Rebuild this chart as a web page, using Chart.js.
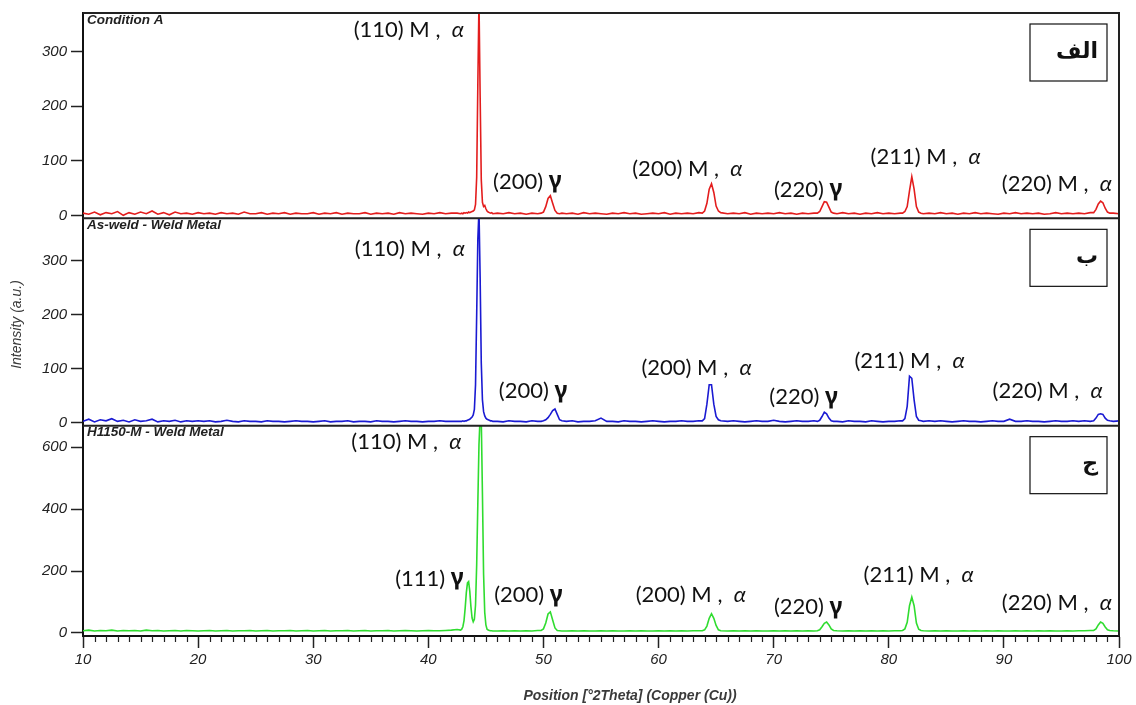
<!DOCTYPE html>
<html>
<head>
<meta charset="utf-8">
<script src="https://cdn.jsdelivr.net/npm/chart.js@4.4.1/dist/chart.umd.min.js"></script>
<style>
  html, body { margin: 0; padding: 0; background: #fff; }
  #wrap { width: 1136px; height: 705px; }
</style>
</head>
<body>
<div id="wrap"><canvas id="xrd" width="1136" height="705"></canvas></div>
<script>
// position [°2Theta], shared by the three scans
const twoTheta = [
  10,10.5,11,11.5,12,12.5,13,13.5,14,14.5,15,15.5,16,16.5,17,17.5,18,18.5,19,19.5,20,
  20.5,21,21.5,22,22.5,23,23.5,24,24.5,25,25.5,26,26.5,27,27.5,28,28.5,29,29.5,30,
  30.5,31,31.5,32,32.5,33,33.5,34,34.5,35,35.5,36,36.5,37,37.5,38,38.5,39,39.5,40,40.5,41,41.5,42,42.5,
  42.8,42.9,43,43.1,43.2,43.3,43.4,43.5,43.6,43.7,43.8,43.9,44,44.1,44.2,44.3,44.4,44.5,44.6,44.7,44.8,44.9,45,45.1,45.2,45.3,45.4,45.5,45.6,
  46,46.5,47,47.5,48,48.5,49,49.5,
  49.8,50,50.2,50.4,50.6,50.8,51,51.2,51.4,51.6,
  52,52.5,53,53.5,54,54.5,55,55.5,56,56.5,57,57.5,58,58.5,59,59.5,60,60.5,61,61.5,62,62.5,63,63.5,
  63.8,64,64.2,64.4,64.6,64.8,65,65.2,65.4,
  66,66.5,67,67.5,68,68.5,69,69.5,70,70.5,71,71.5,72,72.5,73,73.5,
  73.8,74,74.2,74.4,74.6,74.8,75,75.2,
  75.5,76,76.5,77,77.5,78,78.5,79,79.5,80,80.5,81,
  81.2,81.4,81.6,81.8,82,82.2,82.4,82.6,82.8,
  83,83.5,84,84.5,85,85.5,86,86.5,87,87.5,88,88.5,89,89.5,90,90.5,91,91.5,92,92.5,93,93.5,94,94.5,95,95.5,96,96.5,97,97.5,
  97.8,98,98.2,98.4,98.6,98.8,99,99.2,
  99.5,100
];

// Condition A
const intensityA = [
  4,2,6,1,5,3,7,0,5,2,6,3,8,2,5,1,6,3,4,2,5,
  3,4,2,5,3,4,2,6,3,3,5,2,4,3,5,2,4,3,3,5,
  2,4,3,5,2,4,3,3,5,2,4,3,4,2,5,3,4,3,2,4,3,5,3,4,4,
  3,4,3,5,4,5,4,6,5,6,7,8,10,20,70,240,395,220,65,24,16,18,12,8,6,5,4,5,3,
  4,3,5,3,4,2,4,3,
  4,6,16,31,36,22,9,4,3,4,
  3,4,2,5,3,4,3,2,4,3,5,3,4,2,3,4,3,5,2,4,3,4,3,5,
  4,8,22,48,58,42,17,8,5,
  3,4,3,5,2,4,3,4,3,5,3,4,2,4,3,4,
  4,7,16,25,24,15,6,4,
  3,5,3,4,2,4,3,5,3,4,3,4,
  4,7,16,45,71,48,16,6,4,
  3,4,3,5,3,4,2,4,3,5,3,4,3,2,4,3,5,3,4,3,4,2,3,5,3,4,3,4,3,5,
  5,11,21,26,23,13,6,4,
  4,3
];

// As-weld - Weld Metal
const intensityB = [
  2,6,1,5,3,7,2,4,1,5,2,3,6,1,3,2,4,1,3,2,3,
  2,3,1,2,4,2,1,3,2,2,1,3,2,2,1,2,3,2,2,1,
  2,3,1,2,2,3,1,2,2,1,3,2,2,1,2,3,2,2,1,2,2,3,2,2,2,
  2,2,3,2,3,3,4,5,6,8,10,14,24,70,200,340,395,270,110,42,20,12,8,6,5,4,3,3,2,
  2,1,3,2,2,1,3,2,
  2,3,5,9,15,22,25,15,5,3,
  2,3,1,2,2,3,8,2,2,1,3,2,2,1,2,3,2,1,2,2,3,2,2,3,
  3,7,34,70,70,34,11,5,3,
  2,3,2,1,2,3,2,2,4,2,1,2,3,2,2,3,
  2,4,11,19,16,8,3,2,
  2,1,3,2,2,1,3,2,1,2,2,3,
  3,7,30,86,82,42,11,4,3,
  2,3,2,3,2,1,2,3,2,2,1,2,3,2,2,6,2,2,3,2,2,1,2,3,2,2,3,2,3,2,
  3,8,15,16,15,8,4,3,
  2,3
];

// H1150-M - Weld Metal
const intensityC = [
  7,9,6,8,7,9,6,8,7,8,6,9,7,8,6,7,8,6,8,7,6,
  7,8,6,7,8,6,7,7,8,6,7,8,6,7,7,8,6,7,8,6,
  7,8,6,7,7,8,6,7,8,6,7,7,8,6,7,8,7,6,7,8,7,7,8,9,11,
  9,12,20,40,80,130,162,166,135,85,48,36,44,90,220,420,610,700,690,450,190,66,26,12,9,8,7,7,6,
  6,7,6,7,6,7,6,8,
  8,13,32,61,68,42,16,8,7,6,
  6,7,6,7,6,6,7,6,7,6,6,7,6,7,6,6,7,6,7,6,7,6,7,7,
  7,10,22,47,62,47,24,10,7,
  6,7,6,7,6,7,6,6,7,6,7,6,7,6,7,6,
  7,10,20,31,35,26,13,8,
  7,6,7,6,7,6,7,6,7,6,7,7,
  8,13,34,88,116,88,32,12,8,
  7,6,7,6,7,6,6,7,6,7,6,7,6,7,6,6,7,6,7,6,7,6,7,6,6,7,6,7,7,8,
  8,13,26,35,31,19,10,8,
  7,6
];

const panelNames = ['Condition A', 'As-weld - Weld Metal', 'H1150-M - Weld Metal'];
const panelTags = ['الف', 'ب', 'ج'];
const lineColors = ['#e31d1d', '#1a1ad2', '#2fdc2f'];

// peak labels: [hkl, phase, 2theta, intensity]  (Ma = martensite/alpha, g = gamma)
const peaksA = [['(110)','Ma',38.3,340],['(200)','g',48.6,62],['(200)','Ma',62.5,86],['(220)','g',73.0,47.5],['(211)','Ma',83.2,108],['(220)','Ma',94.6,57]];
const peaksB = [['(110)','Ma',38.4,322],['(200)','g',49.1,58],['(200)','Ma',63.3,101],['(220)','g',72.6,47],['(211)','Ma',81.8,114],['(220)','Ma',93.8,58]];
const peaksC = [['(110)','Ma',38.1,618],['(111)','g',40.1,176],['(200)','g',48.7,122],['(200)','Ma',62.8,122],['(220)','g',73.0,83],['(211)','Ma',82.6,186],['(220)','Ma',94.6,96]];

const axisIds = ['yA', 'yB', 'yC'];
const allPeaks = [peaksA, peaksB, peaksC];

function toPoints(ys) {
  return twoTheta.map((x, i) => ({ x, y: ys[i] }));
}

const tickFont = { family: 'Liberation Sans', style: 'italic', size: 15 };
const labelFont = 'Lato';

function yAxis(min, max, step, weight, stackWeight) {
  return {
    type: 'linear', position: 'left', stack: 'xrd', stackWeight, weight,
    min, max,
    ticks: { stepSize: step, includeBounds: false, color: '#222', font: tickFont, padding: 4 },
    grid: { drawOnChartArea: false, tickLength: 12, tickWidth: 1.5, tickColor: '#222' },
    border: { color: '#111', width: 2 },
    afterFit: s => { s.width = 83; },
  };
}

function drawPeakLabel(ctx, cx, cy, hkl, phase) {
  const parts = phase === 'g'
    ? [[hkl + ' ', `22px ${labelFont}`], ['γ', 'bold 23px "Noto Sans"']]
    : [[hkl + ' M ,  ', `22px ${labelFont}`], ['α', `italic 22px ${labelFont}`]];
  let total = 0;
  parts.forEach(p => { ctx.font = p[1]; total += ctx.measureText(p[0]).width; });
  let x = cx - total / 2;
  parts.forEach(p => {
    ctx.font = p[1];
    ctx.fillText(p[0], x, cy);
    x += ctx.measureText(p[0]).width;
  });
}

const xrdDecor = {
  id: 'xrdDecor',
  beforeDatasetDraw(chart, args) {
    const ys = chart.scales[args.meta.yAxisID];
    const a = chart.chartArea;
    chart.ctx.save();
    chart.ctx.beginPath();
    chart.ctx.rect(a.left, ys.top, a.right - a.left, ys.bottom - ys.top);
    chart.ctx.clip();
  },
  afterDatasetDraw(chart) {
    chart.ctx.restore();
  },
  afterDraw(chart) {
    const ctx = chart.ctx;
    const a = chart.chartArea;
    const xs = chart.scales.x;
    ctx.save();

    // frame + panel separators
    ctx.strokeStyle = '#222';
    ctx.lineWidth = 2;
    ctx.beginPath();
    ctx.moveTo(a.left, a.top); ctx.lineTo(a.right, a.top); ctx.lineTo(a.right, a.bottom);
    ['yA', 'yB'].forEach(id => {
      const b = chart.scales[id].bottom;
      ctx.moveTo(a.left, b); ctx.lineTo(a.right, b);
    });
    ctx.stroke();

    // minor ticks on the position axis
    ctx.lineWidth = 1.2;
    ctx.beginPath();
    for (let v = 11; v < 100; v++) {
      if (v % 10 === 0) continue;
      const px = Math.round(xs.getPixelForValue(v)) + 0.5;
      ctx.moveTo(px, a.bottom); ctx.lineTo(px, a.bottom + 6);
    }
    ctx.stroke();

    axisIds.forEach((id, i) => {
      const ys = chart.scales[id];
      // scan name
      ctx.fillStyle = '#222';
      ctx.font = 'italic bold 13.5px "Liberation Sans"';
      ctx.textAlign = 'left';
      ctx.textBaseline = 'middle';
      ctx.fillText(panelNames[i], a.left + 4, ys.top + 7);

      // tag box
      const bx = a.right - 89, by = ys.top + 11;
      ctx.fillStyle = '#fff';
      ctx.fillRect(bx, by, 77, 57);
      ctx.strokeStyle = '#111';
      ctx.lineWidth = 1.2;
      ctx.strokeRect(bx, by, 77, 57);
      ctx.fillStyle = '#111';
      ctx.font = 'bold 22px "DejaVu Sans"';
      ctx.textAlign = 'right';
      ctx.fillText(panelTags[i], bx + 68, by + 28);

      // peak labels
      ctx.textAlign = 'left';
      ctx.fillStyle = '#111';
      allPeaks[i].forEach(p => {
        drawPeakLabel(ctx, xs.getPixelForValue(p[2]), ys.getPixelForValue(p[3]), p[0], p[1]);
      });
    });

    // axis titles
    ctx.fillStyle = '#3a3a3a';
    ctx.textAlign = 'center';
    ctx.textBaseline = 'middle';
    ctx.font = 'italic bold 14px "Liberation Sans"';
    ctx.fillText('Position [°2Theta] (Copper (Cu))', 630, 696);
    ctx.save();
    ctx.translate(17, (a.top + a.bottom) / 2);
    ctx.rotate(-Math.PI / 2);
    ctx.font = 'italic 14px "Liberation Sans"';
    ctx.fillText('Intensity (a.u.)', 0, 0);
    ctx.restore();

    ctx.restore();
  }
};

new Chart(document.getElementById('xrd'), {
  type: 'line',
  data: {
    datasets: [
      { label: panelNames[0], data: toPoints(intensityA), yAxisID: 'yA', borderColor: lineColors[0] },
      { label: panelNames[1], data: toPoints(intensityB), yAxisID: 'yB', borderColor: lineColors[1] },
      { label: panelNames[2], data: toPoints(intensityC), yAxisID: 'yC', borderColor: lineColors[2] },
    ],
  },
  options: {
    responsive: false,
    animation: false,
    layout: { padding: { top: 11, right: 17, left: 0, bottom: 0 } },
    plugins: { legend: { display: false }, tooltip: { enabled: false } },
    elements: { point: { radius: 0 }, line: { borderWidth: 1.6, tension: 0 } },
    scales: {
      x: {
        type: 'linear', min: 10, max: 100,
        ticks: { stepSize: 10, color: '#222', font: tickFont, padding: 3, maxRotation: 0 },
        grid: { drawOnChartArea: false, tickLength: 12, tickWidth: 1.5, tickColor: '#222' },
        border: { color: '#111', width: 2 },
        afterFit: s => { s.height = 69; },
      },
      yA: yAxis(-5.5, 371, 100, 3, 206),
      yB: yAxis(-6, 379, 100, 2, 208),
      yC: yAxis(-10, 670, 200, 1, 211),
    },
  },
  plugins: [xrdDecor],
});
</script>
</body>
</html>
